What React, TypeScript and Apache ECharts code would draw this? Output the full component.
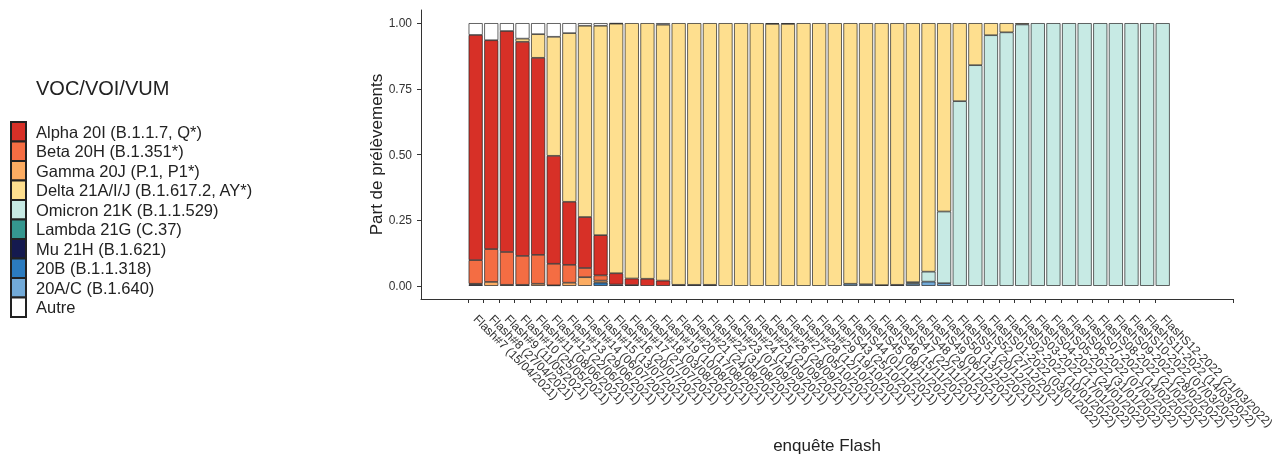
import React, { useEffect, useRef } from 'react';
import * as echarts from 'echarts';

const categories = [
  'Flash#7 (15/04/2021)', 'Flash#8 (27/04/2021)', 'Flash#9 (11/05/2021)', 'Flash#10 (25/05/2021)',
  'Flash#11 (08/06/2021)', 'Flash#12 (22/06/2021)', 'Flash#13 (29/06/2021)', 'Flash#14 (06/07/2021)',
  'Flash#15 (13/07/2021)', 'Flash#16 (20/07/2021)', 'Flash#17 (27/07/2021)', 'Flash#18 (03/08/2021)',
  'Flash#19 (10/08/2021)', 'Flash#20 (17/08/2021)', 'Flash#21 (24/08/2021)', 'Flash#22 (31/08/2021)',
  'Flash#23 (07/09/2021)', 'Flash#24 (14/09/2021)', 'Flash#25 (21/09/2021)', 'Flash#26 (28/09/2021)',
  'Flash#27 (05/10/2021)', 'Flash#28 (12/10/2021)', 'Flash#29 (19/10/2021)', 'FlashS43 (25/10/2021)',
  'FlashS44 (01/11/2021)', 'FlashS45 (08/11/2021)', 'FlashS46 (15/11/2021)', 'FlashS47 (22/11/2021)',
  'FlashS48 (29/11/2021)', 'FlashS49 (06/12/2021)', 'FlashS50 (13/12/2021)', 'FlashS51 (20/12/2021)',
  'FlashS52 (27/12/2021)', 'FlashS01-2022 (03/01/2022)', 'FlashS02-2022 (10/01/2022)', 'FlashS03-2022 (17/01/2022)',
  'FlashS04-2022 (24/01/2022)', 'FlashS05-2022 (31/01/2022)', 'FlashS06-2022 (07/02/2022)', 'FlashS07-2022 (14/02/2022)',
  'FlashS08-2022 (21/02/2022)', 'FlashS09-2022 (28/02/2022)', 'FlashS10-2022 (07/03/2022)', 'FlashS11-2022 (14/03/2022)',
  'FlashS12-2022 (21/03/2022)',
];

// proportions per survey (45 values each)
const alpha = [0.857, 0.795, 0.841, 0.815, 0.75, 0.411, 0.24, 0.194, 0.153, 0.043, 0.025, 0.027, 0.02, 0, 0,
  0, 0, 0, 0, 0, 0, 0, 0, 0, 0, 0, 0, 0, 0, 0, 0, 0, 0, 0, 0, 0, 0, 0, 0, 0, 0, 0, 0, 0, 0];
const beta = [0.09, 0.125, 0.125, 0.11, 0.11, 0.082, 0.068, 0.035, 0.02, 0, 0, 0, 0, 0, 0,
  0, 0, 0, 0, 0, 0, 0, 0, 0, 0, 0, 0, 0, 0, 0, 0, 0, 0, 0, 0, 0, 0, 0, 0, 0, 0, 0, 0, 0, 0];
const gamma = [0.003, 0.015, 0.004, 0, 0.008, 0.002, 0.012, 0.033, 0.008, 0, 0.003, 0, 0, 0, 0,
  0, 0, 0, 0, 0, 0, 0, 0, 0, 0, 0, 0, 0, 0, 0, 0, 0, 0, 0, 0, 0, 0, 0, 0, 0, 0, 0, 0, 0, 0];
const delta = [0, 0, 0, 0.012, 0.09, 0.453, 0.642, 0.728, 0.797, 0.95, 0.972, 0.973, 0.974, 0.996, 0.996,
  0.996, 1, 1, 1, 0.997, 0.997, 1, 1, 1, 0.992, 0.994, 0.997, 0.996, 0.986, 0.946, 0.717, 0.297, 0.16, 0.046, 0.035,
  0.005, 0, 0, 0, 0, 0, 0, 0, 0, 0];
const omicron = [0, 0, 0, 0, 0, 0, 0, 0, 0, 0, 0, 0, 0, 0, 0,
  0, 0, 0, 0, 0, 0, 0, 0, 0, 0, 0, 0, 0, 0.006, 0.038, 0.273, 0.703, 0.84, 0.954, 0.965,
  0.995, 1, 1, 1, 1, 1, 1, 1, 1, 1];
const lambda = [0, 0, 0, 0, 0, 0, 0, 0, 0, 0, 0, 0, 0, 0, 0,
  0, 0, 0, 0, 0, 0, 0, 0, 0, 0, 0, 0, 0, 0, 0, 0, 0, 0, 0, 0, 0, 0, 0, 0, 0, 0, 0, 0, 0, 0];
const mu = [0.005, 0, 0, 0.004, 0, 0, 0, 0, 0, 0.005, 0, 0, 0, 0.004, 0.004,
  0.004, 0, 0, 0, 0, 0, 0, 0, 0, 0, 0, 0.003, 0.004, 0, 0, 0, 0, 0, 0, 0, 0, 0, 0, 0, 0, 0, 0, 0, 0, 0];
const b20 = [0, 0, 0, 0, 0, 0, 0, 0, 0.012, 0, 0, 0, 0, 0, 0,
  0, 0, 0, 0, 0, 0, 0, 0, 0, 0, 0, 0, 0, 0, 0, 0, 0, 0, 0, 0, 0, 0, 0, 0, 0, 0, 0, 0, 0, 0];
const a20c = [0, 0, 0, 0, 0, 0, 0, 0, 0, 0, 0, 0, 0, 0, 0,
  0, 0, 0, 0, 0, 0, 0, 0, 0, 0.008, 0.006, 0, 0, 0.008, 0.016, 0.01, 0, 0, 0, 0, 0, 0, 0, 0, 0, 0, 0, 0, 0, 0];
const autre = [0.045, 0.065, 0.03, 0.059, 0.042, 0.052, 0.038, 0.01, 0.01, 0.002, 0, 0, 0.006, 0, 0,
  0, 0, 0, 0, 0.003, 0.003, 0, 0, 0, 0, 0, 0, 0, 0, 0, 0, 0, 0, 0, 0, 0, 0, 0, 0, 0, 0, 0, 0, 0, 0];

const yTicks = [0, 0.25, 0.5, 0.75, 1];

const variantNames = [
  'Alpha 20I (B.1.1.7, Q*)', 'Beta 20H (B.1.351*)', 'Gamma 20J (P.1, P1*)', 'Delta 21A/I/J (B.1.617.2, AY*)',
  'Omicron 21K (B.1.1.529)', 'Lambda 21G (C.37)', 'Mu 21H (B.1.621)', '20B (B.1.1.318)', '20A/C (B.1.640)', 'Autre',
];

const FONT = "'Liberation Sans', Arial, Helvetica, sans-serif";
const PAD_LEFT = 3;
const PAD_RIGHT = 4;

export default function App() {
  const ref = useRef<HTMLDivElement>(null);
  useEffect(() => {
    if (!ref.current) return;
    const chart = echarts.init(ref.current, null, { renderer: 'svg' });
    const padL = Array.from({ length: PAD_LEFT }, (_, i) => `__pad${i}`);
    const padR = Array.from({ length: PAD_RIGHT }, (_, i) => `__pad${PAD_LEFT + i}`);
    const cats = [...padL, ...categories, ...padR];
    const isReal = (name: string) => !String(name).startsWith('__pad');
    const build = (arr: number[]) => [
      ...padL.map(() => null),
      ...arr.map((v) => (v === 0 ? null : v)),
      ...padR.map(() => null),
    ];
    // stacking order bottom -> top
    const stack: [string, number[], string][] = [
      [variantNames[8], a20c, '#72aad8'],
      [variantNames[7], b20, '#2b7bbf'],
      [variantNames[6], mu, '#151a4f'],
      [variantNames[5], lambda, '#35978f'],
      [variantNames[4], omicron, '#c7eae4'],
      [variantNames[2], gamma, '#fcac62'],
      [variantNames[1], beta, '#f46d43'],
      [variantNames[0], alpha, '#d73027'],
      [variantNames[3], delta, '#fedf8f'],
      [variantNames[9], autre, '#ffffff'],
    ];
    const series = stack.map(([name, arr, color]) => ({
      name,
      type: 'bar',
      stack: 'total',
      barWidth: '90%',
      data: build(arr),
      itemStyle: { color, borderColor: '#222222', borderWidth: 0.7 },
      emphasis: { disabled: true },
    }));
    chart.setOption({
      animation: false,
      textStyle: { fontFamily: FONT },
      title: {
        text: 'VOC/VOI/VUM',
        left: 36,
        top: 78,
        padding: 0,
        textStyle: { fontSize: 20, fontWeight: 'normal', color: '#222', fontFamily: FONT },
      },
      legend: {
        orient: 'vertical',
        left: 10,
        top: 121,
        padding: 0,
        itemGap: -1.9,
        itemWidth: 15,
        itemHeight: 19.4,
        icon: 'rect',
        selectedMode: false,
        data: variantNames,
        textStyle: { fontSize: 16.5, lineHeight: 17, color: '#222', fontFamily: FONT, padding: [0, 0, 0, 5] },
      },
      grid: { left: 421, top: 10, width: 812, height: 289, containLabel: false, outerBoundsMode: 'none' },
      xAxis: {
        type: 'category',
        data: cats,
        name: 'enquête Flash',
        nameLocation: 'middle',
        nameGap: 138,
        nameMoveOverlap: false,
        nameTextStyle: { fontSize: 17, color: '#222', fontFamily: FONT },
        axisLine: { show: true, onZero: false, lineStyle: { color: '#333', width: 1 } },
        axisTick: {
          show: true,
          length: 4,
          interval: (_i: number, v: string) => isReal(v),
          lineStyle: { color: '#333' },
        },
        axisLabel: {
          interval: 0,
          rotate: -45,
          margin: 18,
          fontSize: 12,
          color: '#333',
          fontFamily: FONT,
          hideOverlap: false,
          formatter: (v: string) => (isReal(v) ? v : ''),
        },
      },
      yAxis: {
        type: 'value',
        min: -0.05,
        max: 1.05,
        name: 'Part de prélèvements',
        nameLocation: 'middle',
        nameGap: 36,
        nameMoveOverlap: false,
        nameTextStyle: { fontSize: 17, color: '#222', fontFamily: FONT },
        splitLine: { show: false },
        axisLine: { show: true, lineStyle: { color: '#333', width: 1 } },
        axisTick: { show: true, length: 4, customValues: yTicks, lineStyle: { color: '#333' } },
        axisLabel: {
          customValues: yTicks,
          fontSize: 12,
          color: '#333',
          margin: 9,
          fontFamily: FONT,
          formatter: (v: number) => v.toFixed(2),
        },
      },
      series,
    });
    return () => chart.dispose();
  }, []);
  return <div ref={ref} style={{ position: 'fixed', left: 0, top: 0, width: 1287, height: 454 }} />;
}
